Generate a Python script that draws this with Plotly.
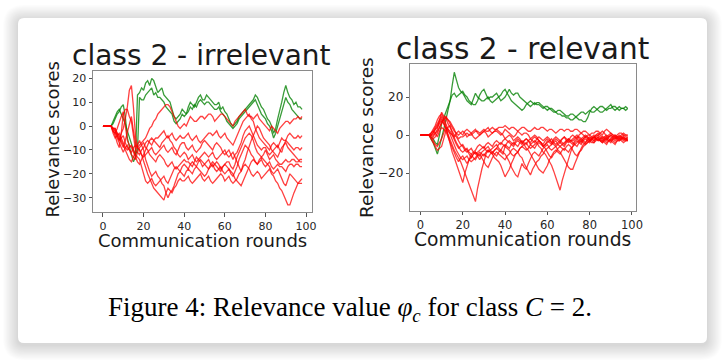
import plotly.graph_objects as go

W, H = 725, 361

# ---------------- Left panel: class 2 - irrelevant (rounds 0..98) ----------------
left_green = [
    [0, 0, 0, 0, 0, 1, 3, 5, 6, 8,
     9, 4, -5, -9, -12, -15, -13, 13, 14, 16,
     15, 18, 19, 17, 20, 19, 16, 14, 15, 16,
     13, 12, 11, 10, 7, 4, 3, 4, 5, 7,
     6, 5, 8, 10, 9, 8, 10, 12, 13, 11,
     11, 13, 12, 11, 10, 9, 9, 10, 7, 8,
     6, 5, 3, 1, 0, 1, 2, 4, 5, 6,
     7, 8, 9, 10, 11, 13, 12, 10, 8, 7,
     5, 3, 2, 0, -3, -1, 3, 6, 10, 14,
     17, 14, 12, 11, 9, 10, 8, 8, 7],
    [0, 0, 0, 0, 0, 2, 4, 6, 7, 5,
     3, 1, -2, -5, -8, -10, -12, -10, 12, 11,
     11, 13, 14, 15, 16, 13, 14, 12, 12, 11,
     10, 8, 7, 6, 5, 2, 1, 2, 3, 5,
     4, 5, 6, 8, 7, 9, 8, 10, 11, 10,
     9, 10, 10, 9, 8, 7, 7, 8, 6, 5,
     4, 2, 1, 0, -1, 0, 1, 3, 4, 5,
     6, 7, 8, 9, 10, 11, 9, 7, 5, 4,
     3, 1, 0, -2, -5, -3, 0, 3, 6, 9,
     12, 10, 9, 7, 6, 5, 4, 3, 3],
]
left_red = [
    [0, 0, 0, 0, 0, -1, -2, -4, -6, -3,
     -1, 3, 8, 15, 17, 8, -4, -9, -8, -7,
     -6, -5, -3, -1, 0, 2, 3, 5, 6, 7,
     8, 9, 9, 8, 6, 4, 2, 0, -1, 0,
     1, 0, 2, 4, 3, 2, 2, 3, 4, 4,
     3, 4, 5, 5, 4, 2, 3, 4, 5, 5,
     4, 3, 2, 1, 0, 2, 3, 4, 5, 6,
     7, 5, 4, 4, 3, 4, 5, 3, 2, 1,
     0, -1, -2, 0, -1, -2, -3, -1, 0, 1,
     2, 2, 1, 2, 3, 3, 4, 3, 4],
    [0, 0, 0, 0, 0, -2, -4, -7, -9, -3,
     5, 7, 7, 4, 2, -4, -10, -11, -12, -10,
     -9, -7, -6, -7, -8, -6, -5, -5, -4, -3,
     -2, -4, -5, -4, -3, -5, -6, -5, -4, -5,
     -5, -4, -3, -5, -6, -5, -4, -6, -7, -6,
     -5, -4, -3, -3, -4, -3, -2, -4, -5, -4,
     -3, -5, -6, -7, -8, -6, -4, -2, 0, 2,
     3, 4, 5, 3, 2, -1, -3, -5, -6, -7,
     -8, -9, -10, -8, -7, -8, -9, -7, -5, -6,
     -6, -4, -3, -4, -5, -5, -4, -5, -4],
    [0, 0, 0, 0, 0, -1, -1, -3, -5, -7,
     -9, -6, -3, 1, 4, -2, -7, -9, -10, -12,
     -13, -12, -11, -10, -9, -11, -12, -11, -10, -9,
     -8, -10, -11, -10, -9, -11, -12, -10, -8, -7,
     -7, -9, -10, -9, -8, -10, -11, -10, -9, -7,
     -6, -7, -8, -9, -10, -8, -7, -8, -9, -11,
     -12, -11, -10, -12, -14, -12, -11, -9, -7, -4,
     -2, -1, 0, -2, -4, -6, -8, -9, -10, -9,
     -9, -11, -12, -11, -10, -9, -8, -10, -11, -8,
     -6, -7, -8, -9, -10, -9, -9, -10, -9],
    [0, 0, 0, 0, 0, -2, -3, -5, -7, -9,
     -11, -9, -8, -10, -12, -13, -14, -11, -9, -8,
     -7, -9, -10, -12, -13, -14, -15, -13, -12, -13,
     -14, -16, -17, -16, -15, -17, -18, -17, -16, -15,
     -14, -15, -15, -16, -17, -15, -13, -14, -15, -17,
     -16, -15, -14, -16, -17, -16, -15, -16, -18, -17,
     -16, -15, -15, -17, -18, -16, -13, -11, -9, -7,
     -5, -4, -3, -4, -6, -9, -11, -12, -13, -12,
     -10, -12, -14, -13, -12, -14, -15, -16, -16, -15,
     -14, -15, -15, -14, -14, -15, -15, -14, -14],
    [0, 0, 0, 0, 0, -3, -5, -4, -3, -5,
     -7, -9, -10, -9, -8, -10, -12, -13, -14, -17,
     -20, -23, -24, -23, -22, -24, -25, -24, -23, -22,
     -21, -23, -24, -22, -20, -18, -17, -18, -19, -20,
     -21, -19, -18, -19, -20, -18, -17, -18, -19, -20,
     -21, -20, -18, -17, -16, -18, -19, -18, -17, -19,
     -20, -19, -18, -20, -21, -19, -17, -14, -12, -10,
     -8, -9, -10, -12, -13, -15, -16, -15, -14, -16,
     -17, -16, -15, -17, -18, -17, -16, -17, -17, -18,
     -19, -17, -16, -16, -17, -16, -16, -17, -17],
    [0, 0, 0, 0, 0, -1, -2, -4, -6, -5,
     -4, -7, -9, -10, -11, -9, -8, -9, -10, -12,
     -15, -18, -20, -22, -24, -26, -27, -28, -29, -30,
     -31, -28, -26, -27, -28, -26, -25, -23, -22, -23,
     -23, -22, -21, -23, -24, -23, -22, -21, -20, -22,
     -23, -22, -21, -23, -24, -23, -22, -21, -20, -21,
     -23, -22, -21, -23, -24, -23, -22, -20, -19, -17,
     -16, -17, -18, -20, -21, -20, -19, -20, -22, -21,
     -20, -19, -18, -20, -21, -23, -24, -26, -27, -29,
     -31, -33, -33, -30, -28, -26, -24, -23, -22],
    [0, 0, 0, 0, 0, -1, -1, -3, -4, -6,
     -8, -10, -12, -14, -15, -13, -11, -8, -6, -8,
     -10, -14, -17, -19, -21, -20, -19, -21, -22, -24,
     -25, -28, -30, -28, -27, -25, -22, -20, -19, -17,
     -16, -17, -18, -16, -15, -16, -17, -15, -14, -15,
     -16, -17, -18, -16, -15, -16, -17, -18, -19, -17,
     -16, -17, -18, -19, -20, -22, -23, -24, -25, -23,
     -21, -19, -17, -15, -14, -15, -16, -14, -13, -14,
     -15, -16, -17, -19, -20, -19, -18, -20, -22, -24,
     -25, -22, -20, -21, -22, -23, -24, -24, -24],
    [0, 0, 0, 0, 0, -2, -3, -1, 2, 4,
     6, 0, -6, -8, -9, -11, -13, -15, -16, -14,
     -12, -10, -8, -6, -5, -6, -7, -8, -9, -7,
     -6, -5, -4, -6, -7, -9, -10, -12, -13, -12,
     -11, -12, -14, -13, -12, -14, -15, -14, -13, -12,
     -11, -12, -13, -12, -11, -13, -14, -13, -12, -11,
     -10, -12, -13, -12, -11, -13, -15, -17, -19, -16,
     -14, -11, -8, -6, -4, -2, 0, -1, -3, -5,
     -6, -7, -8, -10, -11, -12, -13, -11, -9, -8,
     -7, -9, -10, -11, -12, -13, -14, -15, -15],
]

# ---------------- Right panel: class 2 - relevant (rounds 0..98) ----------------
right_green = [
    [0, 0, 0, 0, 0, -2, -4, -7, -10, -6,
     -2, 3, 8, 13, 18, 26, 33, 29, 25, 23,
     22, 20, 18, 17, 16, 19, 22, 20, 19, 18,
     18, 19, 20, 18, 17, 18, 19, 20, 21, 23,
     24, 22, 20, 18, 17, 16, 15, 14, 13, 14,
     16, 17, 18, 17, 16, 17, 17, 16, 15, 14,
     13, 14, 14, 13, 12, 13, 13, 12, 11, 10,
     10, 11, 11, 10, 9, 8, 8, 7, 7, 9,
     12, 14, 15, 14, 13, 12, 12, 13, 14, 15,
     16, 14, 13, 14, 15, 14, 14, 15, 14],
    [0, 0, 0, 0, 0, -1, -2, -4, -5, 0,
     6, 9, 12, 16, 19, 21, 22, 20, 21, 22,
     23, 21, 20, 18, 17, 16, 16, 18, 21, 23,
     24, 21, 19, 20, 20, 21, 22, 20, 18, 19,
     20, 22, 24, 22, 21, 22, 22, 20, 19, 18,
     17, 16, 15, 16, 17, 16, 16, 15, 14, 15,
     15, 14, 13, 12, 12, 11, 11, 10, 10, 9,
     9, 8, 8, 9, 10, 11, 12, 12, 11, 12,
     13, 12, 12, 13, 14, 15, 15, 14, 13, 14,
     14, 15, 15, 14, 13, 14, 14, 13, 14],
]
right_red = [
    [0, 0, 0, 0, 0, 1, 2, 4, 6, 8,
     10, 8, 5, 0, -5, -9, -12, -15, -18, -22,
     -25, -20, -16, -13, -10, -9, -8, -6, -5, -6,
     -7, -5, -4, -5, -6, -4, -3, -4, -5, -3,
     -2, -3, -4, -5, -6, -4, -3, -4, -5, -3,
     -2, -3, -4, -2, -1, -2, -3, -4, -5, -3,
     -2, -3, -4, -2, -1, -2, -3, -4, -5, -3,
     -2, -3, -3, -2, -1, -1, -2, -1, 0, -1,
     -3, -2, -1, -2, -2, -3, -4, -2, -1, -2,
     -3, -2, -2, -1, 0, -1, -2, -2, -2],
    [0, 0, 0, 0, 0, 0, 1, 3, 4, 6,
     8, 6, 3, 0, -2, -5, -8, -10, -12, -14,
     -17, -20, -23, -26, -30, -33, -35, -28, -22, -18,
     -14, -10, -8, -9, -10, -8, -7, -8, -9, -10,
     -6, -7, -8, -10, -11, -10, -9, -7, -6, -7,
     -8, -7, -5, -6, -7, -5, -4, -5, -6, -5,
     -3, -4, -5, -3, -2, -3, -4, -2, -1, -2,
     -3, -1, 0, -1, -2, 0, 1, 0, -1, 0,
     0, -1, -2, 0, 1, 0, -1, -2, -3, -1,
     0, -1, -1, -2, -2, -1, 0, -1, -1],
    [0, 0, 0, 0, 0, 0, -1, 1, 3, 8,
     12, 10, 9, 8, 7, 5, 3, 0, -2, -1,
     -1, 0, 1, 0, 0, 1, 2, 2, 1, 2,
     3, 2, 2, 3, 4, 3, 3, 4, 4, 4,
     5, 4, 3, 4, 4, 3, 2, 3, 4, 4,
     3, 2, 2, 3, 4, 3, 3, 4, 4, 3,
     2, 3, 3, 2, 1, 2, 3, 3, 2, 3,
     3, 2, 2, 3, 3, 2, 1, 2, 2, 1,
     0, 1, 1, 2, 2, 1, 0, 2, 3, 2,
     1, 0, -1, 0, 1, 1, 0, 0, 0],
    [0, 0, 0, 0, 0, 1, 3, 5, 8, 10,
     11, 9, 6, 3, 0, -3, -6, -8, -10, -12,
     -13, -12, -11, -13, -14, -13, -12, -10, -9, -10,
     -11, -9, -8, -9, -10, -12, -13, -14, -16, -19,
     -22, -20, -18, -15, -12, -10, -9, -7, -6, -5,
     -4, -6, -7, -6, -5, -4, -3, -4, -6, -5,
     -4, -3, -2, -4, -5, -4, -3, -2, -1, -3,
     -4, -3, -2, -1, 0, -2, -3, -2, -1, -1,
     -2, -1, 0, -2, -3, -2, -2, -1, 0, -1,
     -1, -2, -3, -2, -1, -1, -2, -2, -1],
    [0, 0, 0, 0, 0, -1, -2, -1, 1, 4,
     7, 8, 9, 6, 4, 2, 0, -1, -3, -5,
     -6, -8, -9, -8, -7, -9, -10, -9, -8, -7,
     -6, -8, -9, -8, -7, -6, -5, -7, -8, -9,
     -10, -12, -14, -17, -19, -21, -22, -18, -15, -17,
     -18, -15, -12, -10, -9, -10, -11, -9, -7, -6,
     -5, -7, -8, -7, -6, -5, -4, -5, -6, -4,
     -3, -4, -5, -3, -2, -3, -4, -2, -1, -2,
     -3, -4, -4, -3, -2, -3, -3, -4, -5, -3,
     -2, -3, -4, -3, -3, -2, -1, -2, -3],
    [0, 0, 0, 0, 0, 0, 1, 3, 5, 7,
     9, 6, 4, 2, 1, 0, -1, 1, 2, 1,
     0, 2, 3, 2, 1, -1, -2, -1, 0, 1,
     2, 1, -1, 0, 1, 2, 3, 2, 1, 0,
     -2, -1, 0, -1, -3, -2, -1, -2, -4, -3,
     -2, -3, -5, -4, -3, -4, -6, -7, -9, -10,
     -12, -14, -16, -19, -22, -26, -29, -24, -20, -16,
     -12, -9, -6, -4, -3, -4, -5, -3, -2, -3,
     -4, -2, -1, -2, -3, -2, -1, -1, -2, -1,
     0, -1, -2, -1, -1, -2, -3, -2, -2],
    [0, 0, 0, 0, 0, -1, -3, -5, -6, -4,
     -2, 1, 4, 3, 2, 0, -3, -5, -7, -6,
     -5, -7, -8, -10, -12, -10, -9, -10, -11, -9,
     -8, -7, -6, -8, -9, -8, -7, -5, -4, -5,
     -6, -4, -3, -4, -5, -3, -2, -3, -4, -5,
     -7, -8, -10, -12, -14, -16, -18, -19, -20, -18,
     -16, -13, -11, -9, -8, -9, -10, -8, -7, -8,
     -9, -7, -6, -5, -4, -3, -2, -3, -4, -2,
     -1, -2, -3, -1, 0, -1, -2, -3, -4, -3,
     -2, -1, 0, -1, -2, -2, -1, -2, -3],
    [0, 0, 0, 0, 0, 1, 2, 1, -1, 2,
     4, 3, 2, -1, -4, -7, -10, -12, -14, -12,
     -11, -13, -15, -13, -12, -10, -9, -11, -13, -11,
     -10, -11, -12, -10, -9, -10, -11, -9, -8, -6,
     -5, -6, -7, -5, -4, -5, -6, -4, -3, -4,
     -5, -3, -2, -3, -4, -2, -1, -2, -3, -2,
     -1, -2, -4, -5, -6, -8, -9, -11, -13, -15,
     -17, -18, -18, -15, -12, -9, -7, -5, -4, -3,
     -2, -3, -4, -2, -1, -2, -3, -2, -2, -3,
     -4, -2, -1, -2, -3, -2, -2, -3, -3],
    [0, 0, 0, 0, 0, -2, -4, -6, -8, -7,
     -6, -2, 2, 4, 5, 1, -2, -4, -6, -8,
     -9, -8, -7, -9, -10, -12, -13, -11, -10, -12,
     -14, -16, -17, -14, -12, -10, -9, -10, -11, -12,
     -13, -11, -10, -8, -7, -8, -9, -11, -12, -15,
     -17, -19, -21, -18, -16, -14, -13, -11, -10, -8,
     -7, -6, -5, -4, -3, -5, -6, -5, -4, -3,
     -2, -3, -4, -5, -6, -4, -3, -4, -5, -4,
     -3, -2, -3, -2, -1, -3, -4, -3, -2, -3,
     -3, -4, -5, -3, -2, -3, -4, -3, -2],
    [0, 0, 0, 0, 0, 0, 0, 1, 2, 4,
     6, 8, 10, 8, 6, 4, 2, 1, 0, 1,
     2, 1, -1, 0, 1, 2, 3, 1, 0, 1,
     2, 3, 4, 2, 1, 2, 2, 1, 0, 1,
     3, 2, 1, 0, -1, 0, 2, 1, 0, 1,
     1, 0, -2, -1, 0, -1, -3, -4, -6, -7,
     -9, -11, -12, -10, -9, -7, -6, -7, -8, -6,
     -5, -6, -8, -10, -11, -9, -8, -6, -5, -4,
     -3, -2, -1, 0, 0, 1, 2, 1, -1, 0,
     1, 0, 0, -1, -1, 0, 1, 0, 0],
]

left_title = "class 2 - irrelevant"
right_title = "class 2 - relevant"
x_label = "Communication rounds"
y_label = "Relevance scores"
caption = "Figure 4: Relevance value <i>φ</i><sub><i>c</i></sub> for class <i>C</i> = 2."

left_xticks = [0, 20, 40, 60, 80, 100]
left_yticks = [-30, -20, -10, 0, 10, 20]
right_xticks = [0, 20, 40, 60, 80, 100]
right_yticks = [-20, 0, 20]

GREEN = "rgba(0,128,0,0.78)"
RED = "rgba(255,0,0,0.75)"


def pxx(x):
    return x / W


def pyy(y):
    return 1 - y / H


def rrect(x0, y0, x1, y1, r):
    pts = [
        f"M {pxx(x0 + r)},{pyy(y0)}",
        f"L {pxx(x1 - r)},{pyy(y0)}",
        f"Q {pxx(x1)},{pyy(y0)} {pxx(x1)},{pyy(y0 + r)}",
        f"L {pxx(x1)},{pyy(y1 - r)}",
        f"Q {pxx(x1)},{pyy(y1)} {pxx(x1 - r)},{pyy(y1)}",
        f"L {pxx(x0 + r)},{pyy(y1)}",
        f"Q {pxx(x0)},{pyy(y1)} {pxx(x0)},{pyy(y1 - r)}",
        f"L {pxx(x0)},{pyy(y0 + r)}",
        f"Q {pxx(x0)},{pyy(y0)} {pxx(x0 + r)},{pyy(y0)}",
        "Z",
    ]
    return " ".join(pts)


fig = go.Figure()


def add_lines(series_list, color, xa, ya):
    for s in series_list:
        fig.add_trace(go.Scatter(x=list(range(len(s))), y=s, mode="lines", xaxis=xa, yaxis=ya,
                                 line=dict(color=color, width=1.3), showlegend=False,
                                 hoverinfo="skip"))


add_lines(left_green, GREEN, "x", "y")
add_lines(left_red, RED, "x", "y")
add_lines(right_green, GREEN, "x2", "y2")
add_lines(right_red, RED, "x2", "y2")

shapes = []
# soft shadow around the card
for k in range(1, 14):
    e = k * 1.15
    shapes.append(dict(type="path", xref="paper", yref="paper", layer="below",
                       path=rrect(18 - e, 18 - e + 2, 707 + e, 343 + e + 2, 6 + e),
                       fillcolor="rgba(0,0,0,0.011)", line=dict(width=0)))
shapes.append(dict(type="path", xref="paper", yref="paper", layer="below",
                   path=rrect(18, 18, 707, 343, 6),
                   fillcolor="white", line=dict(width=0)))

axis_common = dict(showgrid=False, zeroline=False, showline=True, mirror=True,
                   linecolor="#8a8a8a", linewidth=1, ticks="outside", ticklen=3.5,
                   tickwidth=1, tickcolor="#555", automargin=False,
                   tickfont=dict(family="DejaVu Sans", size=11, color="#262626"))

fig.update_layout(
    width=W, height=H,
    margin=dict(l=0, r=0, t=0, b=0),
    paper_bgcolor="white",
    plot_bgcolor="rgba(0,0,0,0)",
    showlegend=False,
    shapes=shapes,
    xaxis=dict(domain=[pxx(93), pxx(312)], range=[-4.9, 102.9], tickvals=left_xticks,
               anchor="y", **axis_common),
    yaxis=dict(domain=[pyy(212), pyy(71)], range=[-36.0, 23.06], tickvals=left_yticks,
               anchor="x", **axis_common),
    xaxis2=dict(domain=[pxx(410.3), pxx(636)], range=[-4.8, 101.9], tickvals=right_xticks,
                anchor="y2", **axis_common),
    yaxis2=dict(domain=[pyy(210.7), pyy(64.3)], range=[-39.8, 37.2], tickvals=right_yticks,
                anchor="x2", **axis_common),
)
fig.update_xaxes(tickfont=dict(size=11.5), selector=dict(anchor="y2"))
fig.update_yaxes(tickfont=dict(size=12), selector=dict(anchor="x2"))

TXT = "#1a1a1a"
ann = [
    dict(text=left_title, x=pxx(201.5), y=pyy(55.5), font=dict(family="DejaVu Sans", size=28, color=TXT)),
    dict(text=right_title, x=pxx(522), y=pyy(49), font=dict(family="DejaVu Sans", size=29.6, color=TXT)),
    dict(text=x_label, x=pxx(202.5), y=pyy(240.5), font=dict(family="DejaVu Sans", size=18, color=TXT)),
    dict(text=x_label, x=pxx(522), y=pyy(239.5), font=dict(family="DejaVu Sans", size=18.7, color=TXT)),
    dict(text=y_label, x=pxx(51.5), y=pyy(140), textangle=-90, font=dict(family="DejaVu Sans", size=18, color=TXT)),
    dict(text=y_label, x=pxx(366.5), y=pyy(137.5), textangle=-90, font=dict(family="DejaVu Sans", size=18.5, color=TXT)),
    dict(text=caption, x=pxx(350), y=pyy(309), font=dict(family="Liberation Serif", size=27, color="black")),
]
for a in ann:
    a.update(xref="paper", yref="paper", showarrow=False, xanchor="center", yanchor="middle")
fig.update_layout(annotations=ann)

fig.write_html("out.html", config={"displayModeBar": False},
               post_script="document.body.style.margin='0';document.body.style.overflow='hidden';")
